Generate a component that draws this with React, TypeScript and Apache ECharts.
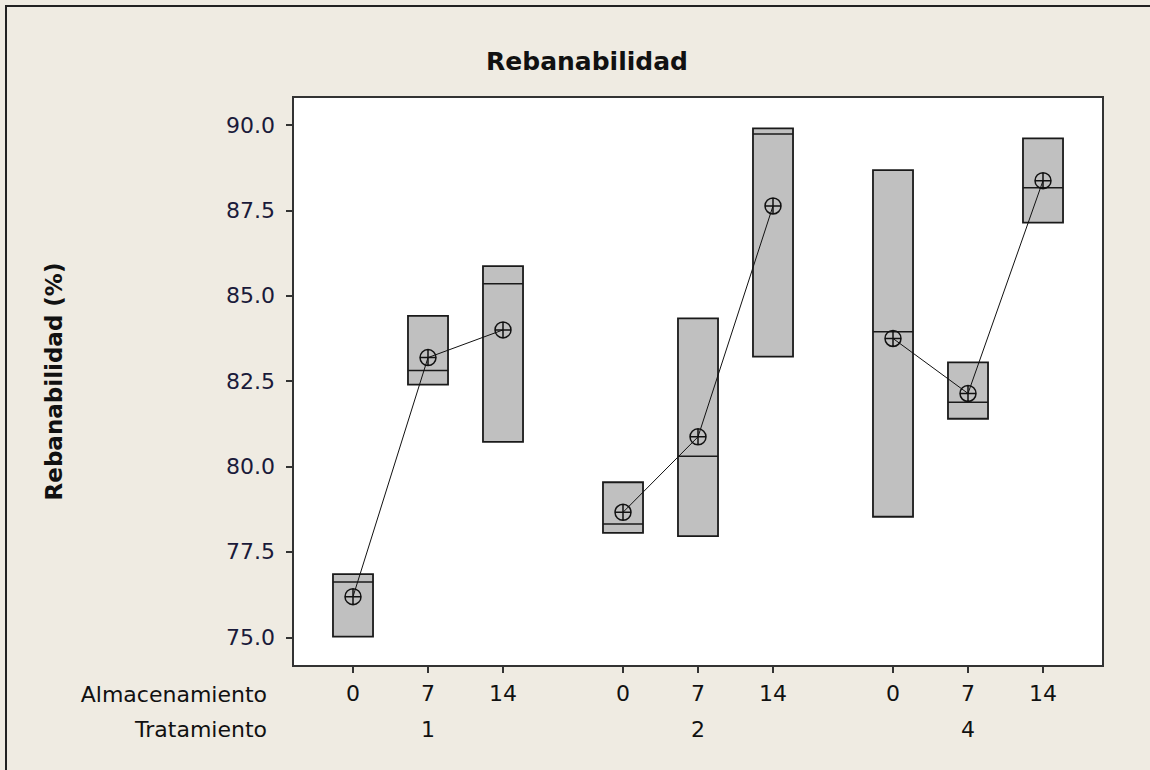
import React, { useEffect, useRef } from "react";
import * as echarts from "echarts";

// ---- data ----
const tratamientos = ["1", "2", "4"];
const almacenamiento = ["0", "7", "14"];
// order: T1(0,7,14), T2(0,7,14), T4(0,7,14)
const minVals = [75.02, 82.4, 80.72, 78.06, 77.96, 83.22, 78.53, 81.4, 87.14];
const maxVals = [76.85, 84.41, 85.87, 79.54, 84.34, 89.9, 88.68, 83.05, 89.61];
const medianVals = [76.62, 82.81, 85.35, 78.32, 80.3, 89.74, 83.95, 81.88, 88.16];
const meanVals = [76.19, 83.19, 84.0, 78.66, 80.87, 87.63, 83.75, 82.14, 88.37];
const yTicks = [75, 77.5, 80, 82.5, 85, 87.5, 90];

const TITLE = "Rebanabilidad";
const Y_NAME = "Rebanabilidad (%)";
const ROW1 = "Almacenamiento";
const ROW2 = "Tratamiento";

// ---- layout helpers ----
const GROUP_STEP = 3.6;
const BOX_HALF = 0.267;
const FONT = "'DejaVu Sans', Verdana, sans-serif";

export default function App() {
  const ref = useRef<HTMLDivElement>(null);

  useEffect(() => {
    document.body.style.margin = "0";
    if (!ref.current) return;
    const chart = echarts.init(ref.current, null, { renderer: "svg" });

    const positions: number[] = [];
    const posLabel: string[] = [];
    const midPositions: number[] = [];
    const midLabel: string[] = [];
    tratamientos.forEach((t, g) => {
      almacenamiento.forEach((a, i) => {
        positions.push(g * GROUP_STEP + i);
        posLabel.push(a);
      });
      midPositions.push(g * GROUP_STEP + 1);
      midLabel.push(t);
    });

    const findLabel = (v: number, ps: number[], ls: string[]) => {
      const idx = ps.findIndex((p) => Math.abs(p - v) < 1e-6);
      return idx >= 0 ? ls[idx] : "";
    };

    const boxData = positions.map((x, k) => [x, minVals[k], maxVals[k], medianVals[k]]);

    const meanSeries = tratamientos.map((t, g) => ({
      type: "line",
      name: "Media T" + t,
      xAxisIndex: 0,
      yAxisIndex: 0,
      z: 5,
      data: almacenamiento.map((a, i) => [positions[g * 3 + i], meanVals[g * 3 + i]]),
      symbol: "path://M8,0A8,8,0,1,1,-8,0A8,8,0,1,1,8,0ZM-8,0L8,0M0,-8L0,8",
      symbolSize: 16,
      symbolKeepAspect: true,
      itemStyle: { color: "rgba(0,0,0,0)", borderColor: "#111", borderWidth: 1.5 },
      lineStyle: { color: "#111", width: 1 },
      silent: true,
    }));

    const option: any = {
      animation: false,
      backgroundColor: "#EFEBE2",
      title: {
        text: TITLE,
        left: 582,
        top: 44,
        textAlign: "center",
        textStyle: { fontFamily: FONT, fontSize: 25, fontWeight: "bold", color: "#111" },
      },
      grid: {
        left: 293,
        top: 97,
        width: 810,
        height: 569,
        show: true,
        backgroundColor: "#ffffff",
        borderColor: "#333",
        borderWidth: 2,
      },
      xAxis: [
        {
          type: "value",
          min: -0.8,
          max: 10,
          position: "bottom",
          axisLine: { show: false, onZero: false },
          splitLine: { show: false },
          axisTick: {
            show: true,
            customValues: positions,
            length: 7,
            inside: false,
            lineStyle: { color: "#333", width: 2 },
          },
          axisLabel: {
            customValues: positions,
            formatter: (v: number) => findLabel(v, positions, posLabel),
            margin: 16,
            fontFamily: FONT,
            fontSize: 22,
            color: "#111",
          },
        },
        {
          type: "value",
          min: -0.8,
          max: 10,
          position: "bottom",
          offset: 36,
          axisLine: { show: false, onZero: false },
          splitLine: { show: false },
          axisTick: { show: false },
          axisLabel: {
            customValues: midPositions,
            formatter: (v: number) => findLabel(v, midPositions, midLabel),
            margin: 16,
            fontFamily: FONT,
            fontSize: 22,
            color: "#111",
          },
        },
      ],
      yAxis: {
        type: "value",
        min: 74.16,
        max: 90.82,
        position: "left",
        name: Y_NAME,
        nameLocation: "middle",
        nameRotate: 90,
        nameGap: 228,
        nameTextStyle: { fontFamily: FONT, fontSize: 23, fontWeight: "bold", color: "#111" },
        axisLine: { show: false, onZero: false },
        splitLine: { show: false },
        axisTick: {
          show: true,
          customValues: yTicks,
          length: 7,
          lineStyle: { color: "#333", width: 2 },
        },
        axisLabel: {
          customValues: yTicks,
          formatter: (v: number) => v.toFixed(1),
          margin: 18,
          fontFamily: FONT,
          fontSize: 22,
          color: "#1a1a3a",
        },
      },
      graphic: [
        {
          type: "rect",
          shape: { x: 6, y: 6, width: 1300, height: 900 },
          style: { fill: "none", stroke: "#222", lineWidth: 2 },
          silent: true,
          z: -1,
        },
        {
          type: "text",
          x: 267,
          y: 694,
          style: {
            text: ROW1,
            align: "right",
            verticalAlign: "middle",
            fontFamily: FONT,
            fontSize: 22,
            fill: "#111",
          },
        },
        {
          type: "text",
          x: 267,
          y: 729,
          style: {
            text: ROW2,
            align: "right",
            verticalAlign: "middle",
            fontFamily: FONT,
            fontSize: 22,
            fill: "#111",
          },
        },
      ],
      series: [
        {
          type: "custom",
          name: "Rango",
          xAxisIndex: 0,
          yAxisIndex: 0,
          z: 2,
          silent: true,
          encode: { x: 0, y: [1, 2, 3] },
          data: boxData,
          renderItem: (params: any, api: any) => {
            const x = api.value(0);
            const lo = api.value(1);
            const hi = api.value(2);
            const med = api.value(3);
            const tl = api.coord([x - BOX_HALF, hi]);
            const br = api.coord([x + BOX_HALF, lo]);
            const ml = api.coord([x - BOX_HALF, med]);
            const mr = api.coord([x + BOX_HALF, med]);
            return {
              type: "group",
              children: [
                {
                  type: "rect",
                  shape: { x: tl[0], y: tl[1], width: br[0] - tl[0], height: br[1] - tl[1] },
                  style: { fill: "#C0C0C0", stroke: "#1a1a1a", lineWidth: 1.8 },
                },
                {
                  type: "line",
                  shape: { x1: ml[0], y1: ml[1], x2: mr[0], y2: mr[1] },
                  style: { stroke: "#1a1a1a", lineWidth: 1.5 },
                },
              ],
            };
          },
        },
        ...meanSeries,
      ],
    };

    chart.setOption(option);
    return () => chart.dispose();
  }, []);

  return <div ref={ref} style={{ width: 1150, height: 770 }} />;
}
